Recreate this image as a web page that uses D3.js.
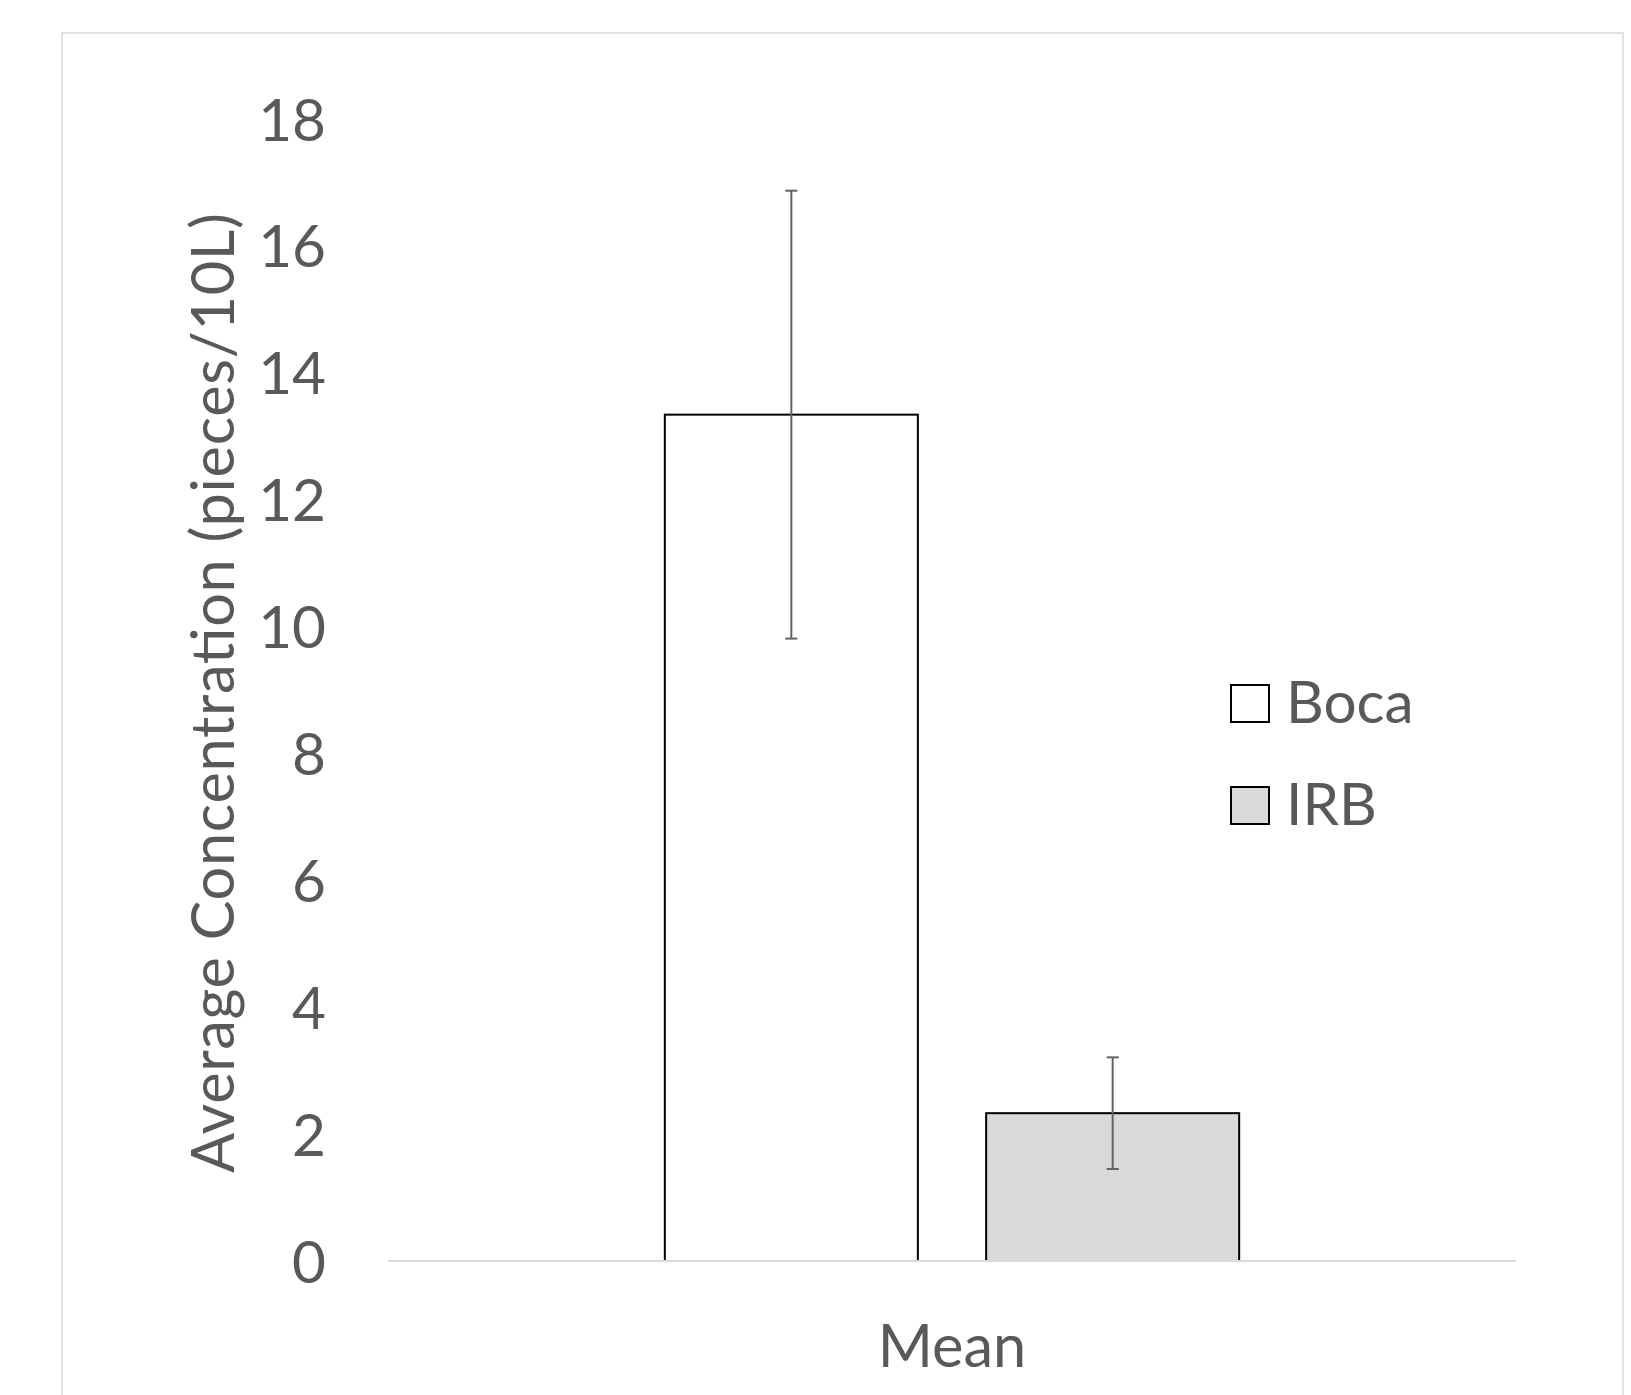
<!DOCTYPE html>
<html>
<head>
<meta charset="utf-8">
<script src="https://cdn.jsdelivr.net/npm/d3@7"></script>
<style>
  html, body { margin: 0; padding: 0; background: #ffffff; }
  svg { display: block; }
  text { font-family: Lato, "Open Sans", sans-serif; fill: #595959; }
</style>
</head>
<body>
<script>
const categories = ["Mean"];
const seriesNames = ["Boca", "IRB"];
const seriesValues = [13.34, 2.33];
const seriesErrors = [3.53, 0.88];
const seriesFills = ["#ffffff", "#d9d9d9"];
const yTicks = [0, 2, 4, 6, 8, 10, 12, 14, 16, 18];
const yTitle = "Average Concentration (pieces/10L)";

const W = 1631, H = 1395;
const svg = d3.select("body").append("svg").attr("width", W).attr("height", H);

// outer chart border (bottom runs off the page)
svg.append("path")
  .attr("d", `M62,${H + 5} L62,33 L1623,33 L1623,${H + 5}`)
  .attr("fill", "none").attr("stroke", "#d9d9d9").attr("stroke-width", 1.5);

const plot = { left: 388, right: 1516, top: 119, bottom: 1261 };

const y = d3.scaleLinear().domain([0, 18]).range([plot.bottom, plot.top]);
const x0 = d3.scaleBand().domain(categories).range([plot.left, plot.right])
  .paddingInner(0).paddingOuter(0.482);
const x1 = d3.scaleBand().domain(seriesNames).range([0, x0.bandwidth()])
  .paddingInner(0.2126).paddingOuter(0);

const fontSize = 58.5;
const capHalf = 21;

// y tick labels
const yAxis = d3.axisLeft(y).tickValues(yTicks).tickSize(0).tickPadding(0);
const gy = svg.append("g").attr("transform", `translate(326,0)`).call(yAxis);
gy.select(".domain").remove();
gy.selectAll("text")
  .attr("font-size", fontSize).attr("font-family", "Lato, 'Open Sans', sans-serif")
  .attr("fill", "#595959").attr("dy", null).attr("y", capHalf).attr("x", 0)
  .attr("text-anchor", "end");

// y title
svg.append("text")
  .attr("transform", `translate(234,693) rotate(-90)`)
  .attr("text-anchor", "middle")
  .attr("font-size", 59.5)
  .attr("textLength", 960)
  .attr("lengthAdjust", "spacing")
  .text(yTitle);

const data = seriesNames.map((s, i) => ({ cat: categories[0], name: s, v: seriesValues[i], e: seriesErrors[i], fill: seriesFills[i] }));

// bars
svg.append("g").selectAll("rect").data(data).join("rect")
  .attr("x", d => x0(d.cat) + x1(d.name))
  .attr("y", d => y(d.v))
  .attr("width", x1.bandwidth())
  .attr("height", d => y(0) - y(d.v))
  .attr("fill", d => d.fill)
  .attr("stroke", "#000000").attr("stroke-width", 2);

// baseline
svg.append("line")
  .attr("x1", plot.left).attr("x2", plot.right)
  .attr("y1", y(0)).attr("y2", y(0))
  .attr("stroke", "#d9d9d9").attr("stroke-width", 2);

// error bars
const eg = svg.append("g").attr("stroke", "#636363").attr("stroke-width", 2).attr("fill", "none");
data.forEach(d => {
  const cx = x0(d.cat) + x1(d.name) + x1.bandwidth() / 2;
  eg.append("line").attr("x1", cx).attr("x2", cx).attr("y1", y(d.v + d.e)).attr("y2", y(d.v - d.e));
  eg.append("line").attr("x1", cx - 6).attr("x2", cx + 6).attr("y1", y(d.v + d.e)).attr("y2", y(d.v + d.e));
  eg.append("line").attr("x1", cx - 6).attr("x2", cx + 6).attr("y1", y(d.v - d.e)).attr("y2", y(d.v - d.e));
});

// x category label
svg.append("g").selectAll("text").data(categories).join("text")
  .attr("x", d => x0(d) + x0.bandwidth() / 2)
  .attr("y", 1367)
  .attr("text-anchor", "middle")
  .attr("font-size", 59.5)
  .text(d => d);

// legend
const legendY = [703.5, 805.5];
const lg = svg.append("g");
data.forEach((d, i) => {
  lg.append("rect").attr("x", 1231).attr("y", legendY[i] - 18.5).attr("width", 38).attr("height", 37)
    .attr("fill", d.fill).attr("stroke", "#000000").attr("stroke-width", 2);
  lg.append("text").attr("x", 1286).attr("y", legendY[i] - 1.8 + capHalf)
    .attr("font-size", fontSize).text(d.name);
});
</script>
</body>
</html>
